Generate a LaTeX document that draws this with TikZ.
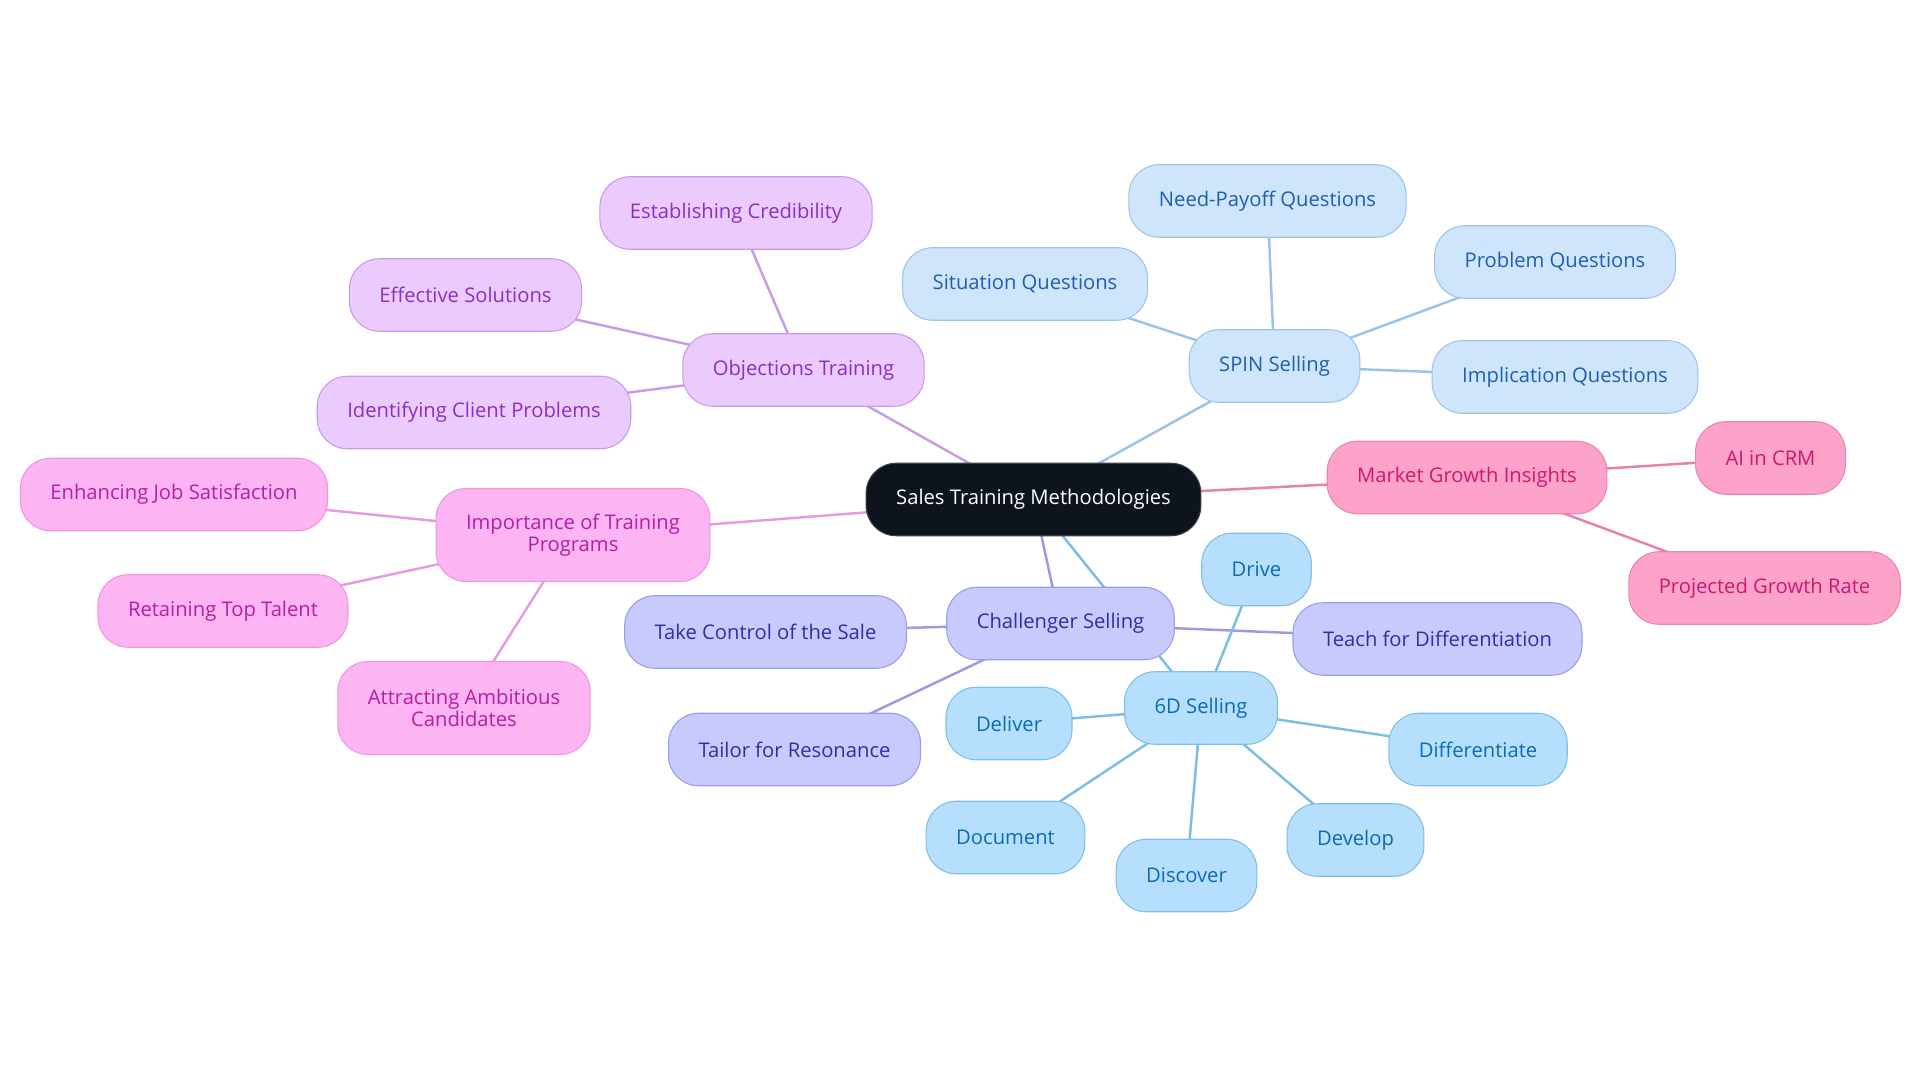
\documentclass[tikz,border=0pt]{standalone}
\usepackage{fontspec}
\setmainfont{Open Sans}
\usetikzlibrary{backgrounds}

\definecolor{rootfill}{HTML}{0D141C}
\definecolor{rootline}{HTML}{3A4048}
\definecolor{spinfill}{HTML}{CFE5FC}
\definecolor{spinline}{HTML}{9CC3EC}
\definecolor{spintext}{HTML}{1E5FAE}
\definecolor{spinedge}{HTML}{9DC2E8}
\definecolor{sixfill}{HTML}{B5DFFD}
\definecolor{sixline}{HTML}{7FBDEA}
\definecolor{sixtext}{HTML}{0B6BB3}
\definecolor{sixedge}{HTML}{7CBDE6}
\definecolor{chalfill}{HTML}{C8C9FC}
\definecolor{challine}{HTML}{9C9CEA}
\definecolor{chaltext}{HTML}{2F2FA5}
\definecolor{chaledge}{HTML}{9C98E4}
\definecolor{objfill}{HTML}{EBCBFD}
\definecolor{objline}{HTML}{C99AEA}
\definecolor{objtext}{HTML}{8B2FC2}
\definecolor{objedge}{HTML}{C79BE5}
\definecolor{impfill}{HTML}{FCB4F2}
\definecolor{impline}{HTML}{EC97E2}
\definecolor{imptext}{HTML}{B41FA3}
\definecolor{impedge}{HTML}{E89ADE}
\definecolor{mktfill}{HTML}{FDA3CA}
\definecolor{mktline}{HTML}{EA84B2}
\definecolor{mkttext}{HTML}{CF1770}
\definecolor{mktedge}{HTML}{E481AE}

\tikzset{
  topic/.style={rounded corners=0.6cm, minimum height=1.45cm, inner xsep=0.6cm,
    align=center, line width=0.6pt, font=\fontsize{11.5}{12.5}\selectfont},
  twoline/.style={minimum height=1.86cm},
  root/.style={topic, fill=rootfill, draw=rootline, text=white},
  spin/.style={topic, fill=spinfill, draw=spinline, text=spintext},
  six/.style={topic, fill=sixfill, draw=sixline, text=sixtext},
  chal/.style={topic, fill=chalfill, draw=challine, text=chaltext},
  obj/.style={topic, fill=objfill, draw=objline, text=objtext},
  imp/.style={topic, fill=impfill, draw=impline, text=imptext},
  mkt/.style={topic, fill=mktfill, draw=mktline, text=mkttext},
  link/.style={line width=1.4pt}
}

\begin{document}
\begin{tikzpicture}
\useasboundingbox (0,0) rectangle (38.4,21.66);

\node[root] (sales) at (20.67,11.67) {Sales Training Methodologies};

\node[spin] (spin) at (25.49,14.34) {SPIN Selling};
\node[spin] (situation) at (20.50,15.98) {Situation Questions};
\node[spin] (needpayoff) at (25.35,17.64) {Need-Payoff Questions};
\node[spin] (problem) at (31.10,16.42) {Problem Questions};
\node[spin] (implication) at (31.30,14.12) {Implication Questions};

\node[mkt] (market) at (29.34,12.11) {Market Growth Insights};
\node[mkt] (aicrm) at (35.41,12.50) {AI in CRM};
\node[mkt] (growth) at (35.29,9.90) {Projected Growth Rate};

\node[chal] (challenger) at (21.21,9.19) {Challenger Selling};
\node[chal] (control) at (15.31,9.02) {Take Control of the Sale};
\node[chal] (tailor) at (15.89,6.67) {Tailor for Resonance};
\node[chal] (teach) at (28.75,8.88) {Teach for Differentiation};

\node[six] (sixd) at (24.02,7.50) {6D Selling};
\node[six] (drive) at (25.13,10.27) {Drive};
\node[six] (deliver) at (20.18,7.19) {Deliver};
\node[six] (differentiate) at (29.56,6.67) {Differentiate};
\node[six] (document) at (20.11,4.91) {Document};
\node[six] (discover) at (23.73,4.15) {Discover};
\node[six] (develop) at (27.11,4.86) {Develop};

\node[obj] (objections) at (16.07,14.26) {Objections Training};
\node[obj] (credibility) at (14.72,17.40) {Establishing Credibility};
\node[obj] (solutions) at (9.31,15.76) {Effective Solutions};
\node[obj] (clientproblems) at (9.48,13.41) {Identifying Client Problems};

\node[imp, twoline] (importance) at (11.46,10.96) {Importance of Training\\Programs};
\node[imp] (satisfaction) at (3.48,11.77) {Enhancing Job Satisfaction};
\node[imp] (talent) at (4.46,9.44) {Retaining Top Talent};
\node[imp, twoline] (attracting) at (9.28,7.50) {Attracting Ambitious\\Candidates};

\begin{scope}[on background layer]
\fill[white] (0,0) rectangle (38.4,21.66);
\draw[link, spinedge] (sales.center) -- (spin.center);
\draw[link, spinedge] (spin.center) -- (situation.center);
\draw[link, spinedge] (spin.center) -- (needpayoff.center);
\draw[link, spinedge] (spin.center) -- (problem.center);
\draw[link, spinedge] (spin.center) -- (implication.center);
\draw[link, mktedge] (sales.center) -- (market.center);
\draw[link, mktedge] (market.center) -- (aicrm.center);
\draw[link, mktedge] (market.center) -- (growth.center);
\draw[link, chaledge] (sales.center) -- (challenger.center);
\draw[link, chaledge] (challenger.center) -- (control.center);
\draw[link, chaledge] (challenger.center) -- (tailor.center);
\draw[link, chaledge] (challenger.center) -- (teach.center);
\draw[link, sixedge] (sales.center) -- (sixd.center);
\draw[link, sixedge] (sixd.center) -- (drive.center);
\draw[link, sixedge] (sixd.center) -- (deliver.center);
\draw[link, sixedge] (sixd.center) -- (differentiate.center);
\draw[link, sixedge] (sixd.center) -- (document.center);
\draw[link, sixedge] (sixd.center) -- (discover.center);
\draw[link, sixedge] (sixd.center) -- (develop.center);
\draw[link, objedge] (sales.center) -- (objections.center);
\draw[link, objedge] (objections.center) -- (credibility.center);
\draw[link, objedge] (objections.center) -- (solutions.center);
\draw[link, objedge] (objections.center) -- (clientproblems.center);
\draw[link, impedge] (sales.center) -- (importance.center);
\draw[link, impedge] (importance.center) -- (satisfaction.center);
\draw[link, impedge] (importance.center) -- (talent.center);
\draw[link, impedge] (importance.center) -- (attracting.center);
\end{scope}
\end{tikzpicture}
\end{document}
